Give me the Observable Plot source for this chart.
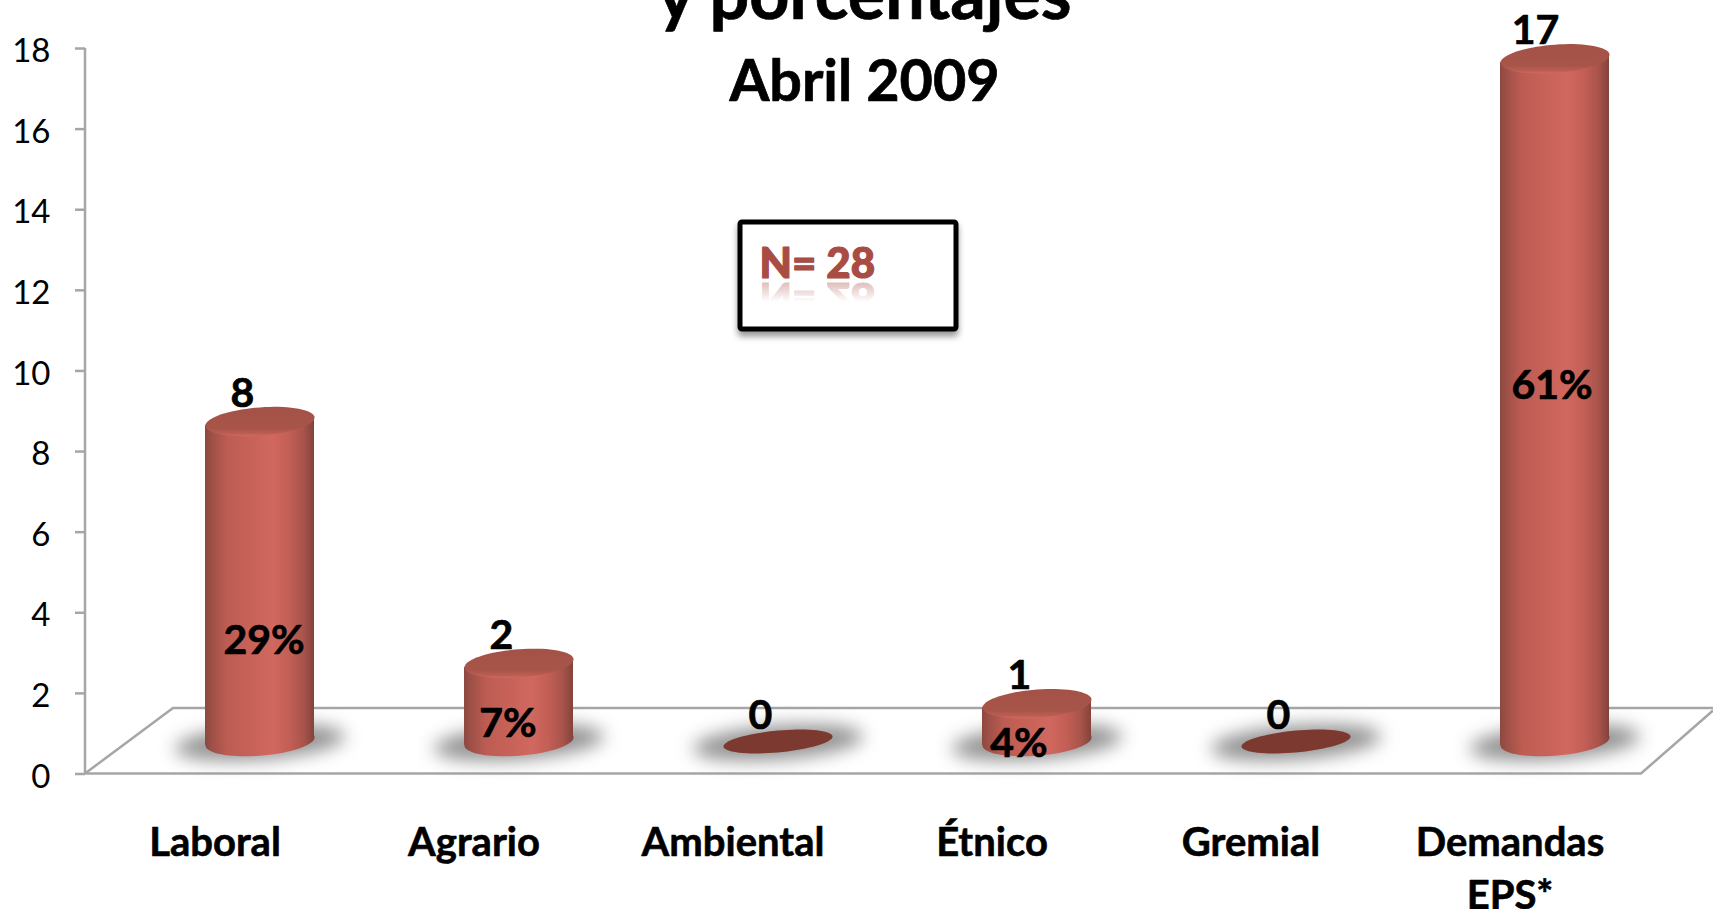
<!DOCTYPE html>
<html><head><meta charset="utf-8">
<script src="https://cdn.jsdelivr.net/npm/d3@7"></script>
<script src="https://cdn.jsdelivr.net/npm/@observablehq/plot@0.6"></script>
<style>
html,body{margin:0;padding:0;background:#fff;overflow:hidden}
svg{display:block}
.cyl rect{transform-box:fill-box;transform-origin:center;transform:skewY(-4.2deg)}
.shadow{filter:blur(9px)}
.nbox{filter:drop-shadow(0 5px 3px rgba(0,0,0,.4))}
</style></head><body><div id="chart"></div>
<script>
const categories = ["Laboral","Agrario","Ambiental","Étnico","Gremial","Demandas\nEPS*"];
const counts = [8,2,0,1,0,17];
const percents = ["29%","7%",null,"4%",null,"61%"];
const yTicks = [0,2,4,6,8,10,12,14,16,18];
const titleLine1 = "y porcentajes";
const titleLine2 = "Abril 2009";
const sampleNote = "N= 28";

const rows = categories.map((c,i)=>({category:c,count:counts[i],percent:percents[i]}));
const font = "Lato, 'Open Sans', sans-serif";
const SK = Math.tan(4.2*Math.PI/180);
const ell = (ratio, skew=SK) => ({draw(ctx,size){
  const a=Math.sqrt(size/Math.PI), b=a*ratio;
  for(let k=0;k<=72;k++){const t=k/72*2*Math.PI,x=a*Math.cos(t),y=b*Math.sin(t)-x*skew;
    k?ctx.lineTo(x,y):ctx.moveTo(x,y);}
  ctx.closePath();
}});
const DX=45, DY=-32.5, TOPDY=-30, R=54.5;
const place={x:"category",dx:DX,dy:DY};
const heavy={fontWeight:700,fill:"#000",stroke:"#000",strokeWidth:0.7};
const labelStyle={...heavy,fontSize:41};

const defs=()=>{
  const d=d3.create("svg:defs");
  const g=d.append("linearGradient").attr("id","body");
  [[0,"#8c4840"],[.06,"#9d5047"],[.2,"#bd5c52"],[.45,"#c9635a"],[.62,"#d1685f"],[.78,"#c15e55"],[.9,"#a9544b"],[1,"#82433c"]]
    .forEach(([o,c])=>g.append("stop").attr("offset",o).attr("stop-color",c));
  const t=d.append("linearGradient").attr("id","top").attr("x1",0).attr("x2",0).attr("y1",0).attr("y2",1);
  [[0,"#a45248"],[.72,"#a75449"],[.9,"#bb5d52"],[1,"#cf6b61"]]
    .forEach(([o,c])=>t.append("stop").attr("offset",o).attr("stop-color",c));
  const m=d.append("linearGradient").attr("id","fade").attr("x1",0).attr("x2",0).attr("y1",0).attr("y2",1);
  m.append("stop").attr("offset",0).attr("stop-color","#fff").attr("stop-opacity",.45);
  m.append("stop").attr("offset",1).attr("stop-color","#fff").attr("stop-opacity",0);
  d.append("mask").attr("id","fademask").attr("maskUnits","userSpaceOnUse")
    .attr("x",740).attr("y",278).attr("width",200).attr("height",24)
    .append("rect").attr("x",740).attr("y",278).attr("width",200).attr("height",24).attr("fill","url(#fade)");
  return d.node();
};
const floor=(index,{y},values,dim)=>{
  const y0=y(0), yb=y(1.625), l=dim.marginLeft;
  const p=d3.path();
  p.moveTo(l,y(18));p.lineTo(l,y0);p.lineTo(1641,y0);p.lineTo(1713,y0-63);
  p.moveTo(l,y0);p.lineTo(173,yb);p.lineTo(1713,yb);
  return d3.create("svg:path").attr("d",p.toString()).attr("fill","none")
    .attr("stroke","#a6a6a6").attr("stroke-width",2.5).node();
};

const chart=Plot.plot({
  width:1713,height:909,marginLeft:85,marginRight:74,marginTop:48,marginBottom:135.5,
  style:{fontFamily:font,background:"#fff",color:"#000"},
  x:{domain:categories,paddingInner:0.58,paddingOuter:0.29,label:null},
  y:{domain:[0,18],label:null},
  marks:[
    defs,
    floor,
    Plot.axisY({ticks:yTicks,tickSize:10,tickFormat:()=>"",stroke:"#a6a6a6",strokeWidth:2.5,label:null}),
    Plot.axisY({ticks:yTicks,tickSize:0,tickPadding:35,dy:3,fontSize:33,fill:"#000",stroke:"none",label:null}),
    Plot.axisX({tickSize:0,tickPadding:44.5,fontSize:40,fontWeight:700,lineHeight:1.33,fill:"#000",stroke:"none",textStroke:"#000",textStrokeWidth:0.6,label:null}),
    Plot.dot(rows,{x:"category",dx:DX,dy:DY+1,y:()=>0,r:85,symbol:ell(.2),fill:"#858585",fillOpacity:.9,className:"shadow"}),
    Plot.dot(rows.filter(d=>d.count>0),{...place,y:()=>0,r:R,symbol:ell(.26),fill:"url(#body)"}),
    Plot.barY(rows,{...place,y:"count",insetTop:2.5,fill:"url(#body)",className:"cyl"}),
    Plot.dot(rows.filter(d=>d.count>0),{...place,dy:TOPDY,y:"count",r:R,symbol:ell(.26),fill:"url(#top)"}),
    Plot.dot(rows.filter(d=>d.count===0),{...place,y:"count",r:R,symbol:ell(.2,.09),fill:"#7b392f"}),
    Plot.text(rows.filter(d=>d.count<10),{x:"category",y:"count",text:"count",dx:27.5,dy:-58,...labelStyle}),
    Plot.text(rows.filter(d=>d.count>=10),{x:"category",y:"count",text:"count",dx:25.5,dy:-58,...labelStyle}),
    Plot.text([rows[0]],{x:"category",y:()=>3.31,text:"percent",dx:49,...labelStyle}),
    Plot.text([rows[1]],{x:"category",y:()=>1.25,text:"percent",dx:34,...labelStyle}),
    Plot.text([rows[3]],{x:"category",y:()=>0.75,text:"percent",dx:27,...labelStyle}),
    Plot.text([rows[5]],{x:"category",y:()=>9.63,text:"percent",dx:42,...labelStyle}),
    Plot.frame({stroke:"#000",strokeWidth:5,fill:"#fff",rx:2,insetLeft:739.5-85,insetRight:1639-955.5,insetTop:221.5-48,insetBottom:773.5-328.5,className:"nbox"}),
    Plot.text([sampleNote],{frameAnchor:"top-left",text:d=>d,dx:759-85,dy:277-48,lineAnchor:"bottom",textAnchor:"start",fontSize:42,fontWeight:900,fill:"#a84c44",stroke:"#a84c44",strokeWidth:1.2,className:"note"}),
    Plot.text([titleLine1],{frameAnchor:"top",text:d=>d,dx:2,dy:18-48,lineAnchor:"bottom",fontSize:70,...heavy}),
    Plot.text([titleLine2],{frameAnchor:"top",text:d=>d,dx:2,dy:100-48,lineAnchor:"bottom",fontSize:57.5,...heavy})
  ]
});
document.getElementById("chart").append(chart);
// soft reflection of the note beneath it, mirrored with <use> so the text stays single
const noteText=[...chart.querySelectorAll("text")].find(t=>t.textContent===sampleNote);
if(noteText){
  noteText.id="noteText";
  const P=noteText.parentNode.getCTM();
  const B=280;
  d3.select(chart).append("g").attr("mask","url(#fademask)")
    .attr("fill","#a84c44").attr("stroke","#a84c44").attr("stroke-width",1.2)
    .attr("font-size",42).attr("font-weight",900).attr("text-anchor","start")
    .append("use").attr("href","#noteText")
    .attr("transform",`translate(0,${2*B}) scale(1,-1) matrix(${P.a},${P.b},${P.c},${P.d},${P.e},${P.f})`);
}
</script></body></html>
